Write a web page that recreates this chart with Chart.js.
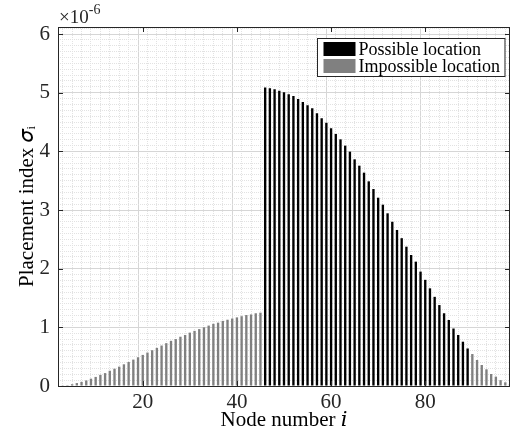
<!DOCTYPE html>
<html>
<head>
<meta charset="utf-8">
<script src="https://cdn.jsdelivr.net/npm/chart.js@4.4.0/dist/chart.umd.min.js"></script>
<style>
  html, body { margin: 0; padding: 0; background: #fff; }
  #wrap { width: 514px; height: 436px; position: relative; }
</style>
</head>
<body>
<div id="wrap"><canvas id="chart"></canvas></div>
<script>
// Индекс размещения по узлам, в единицах 1e-6
const impossibleNodes = [3, 4, 5, 6, 7, 8, 9, 10, 11, 12, 13, 14, 15, 16, 17, 18, 19, 20, 21, 22, 23, 24,
    25, 26, 27, 28, 29, 30, 31, 32, 33, 34, 35, 36, 37, 38, 39, 40, 41, 42, 43, 44, 45,
    90, 91, 92, 93, 94, 95, 96, 97, 98];
const impossibleValues = [0.005, 0.015, 0.03, 0.05, 0.07, 0.095, 0.125, 0.155, 0.19, 0.22, 0.26, 0.295,
    0.33, 0.37, 0.41, 0.45, 0.49, 0.53, 0.57, 0.61, 0.65, 0.69, 0.73, 0.77, 0.80, 0.84, 0.87, 0.91,
    0.94, 0.97, 1.00, 1.03, 1.06, 1.08, 1.11, 1.13, 1.15, 1.17, 1.19, 1.21, 1.22, 1.24, 1.25,
    0.545, 0.443, 0.358, 0.284, 0.205, 0.16, 0.10, 0.063, 0.034];
const possibleNodes = [46, 47, 48, 49, 50, 51, 52, 53, 54, 55, 56, 57, 58, 59, 60, 61, 62, 63, 64, 65, 66,
    67, 68, 69, 70, 71, 72, 73, 74, 75, 76, 77, 78, 79, 80, 81, 82, 83, 84, 85, 86, 87, 88, 89];
const possibleValues = [5.09, 5.075, 5.058, 5.035, 5.006, 4.972, 4.944, 4.893, 4.841, 4.784, 4.733, 4.648,
    4.563, 4.489, 4.392, 4.296, 4.205, 4.097, 3.995, 3.864, 3.756, 3.637, 3.489, 3.358, 3.21, 3.091,
    2.944, 2.80, 2.66, 2.52, 2.375, 2.233, 2.12, 1.95, 1.81, 1.665, 1.52, 1.38, 1.24, 1.125, 0.98,
    0.87, 0.755, 0.64];
const xTicks = [20, 40, 60, 80];
const yTicks = [0, 1, 2, 3, 4, 5, 6];
const xRange = [2, 98];
const yRange = [0, 6.12];

const FONT = '"Liberation Serif", "DejaVu Serif", serif';
const AXIS_COLOR = '#262626';

// основная сетка по меткам + мелкая сетка между ними
function withMinor(scale, major, from, to, step) {
    const ticks = [];
    const n = Math.round((to - from) / step);
    for (let k = 0; k <= n; k++) {
        const v = +(from + k * step).toFixed(6);
        ticks.push({ value: v, major: major.some(m => Math.abs(m - v) < 1e-6) });
    }
    scale.ticks = ticks;
}

const gridColor = ctx => (ctx.tick && ctx.tick.major) ? '#d6d6d6' : '#e2e2e2';
const gridDash = ctx => (ctx.tick && ctx.tick.major) ? [] : [1, 1];
const tickLabel = function (value, index, ticks) {
    return ticks[index].major ? String(value) : '';
};

// рамка осей, внутренние засечки, множитель и легенда
const axesBox = {
    id: 'axesBox',
    afterDraw(chart) {
        const { ctx, chartArea: a, scales } = chart;
        ctx.save();
        ctx.strokeStyle = AXIS_COLOR;
        ctx.lineWidth = 1;
        ctx.beginPath();
        xTicks.forEach(v => {
            const px = Math.round(scales.x.getPixelForValue(v)) + 0.5;
            ctx.moveTo(px, a.bottom); ctx.lineTo(px, a.bottom - 5);
            ctx.moveTo(px, a.top); ctx.lineTo(px, a.top + 5);
        });
        yTicks.forEach(v => {
            const py = Math.round(scales.y.getPixelForValue(v)) + 0.5;
            ctx.moveTo(a.left, py); ctx.lineTo(a.left + 5, py);
            ctx.moveTo(a.right, py); ctx.lineTo(a.right - 5, py);
        });
        ctx.stroke();
        ctx.strokeRect(Math.round(a.left) + 0.5, Math.round(a.top) + 0.5,
            Math.round(a.right - a.left) - 1, Math.round(a.bottom - a.top));

        // ×10^-6
        ctx.fillStyle = AXIS_COLOR;
        ctx.textBaseline = 'alphabetic';
        ctx.textAlign = 'left';
        ctx.font = '19px ' + FONT;
        const base = a.top - 4;
        ctx.fillText('×10', a.left + 1, base);
        const w = ctx.measureText('×10').width;
        ctx.font = '14px ' + FONT;
        ctx.fillText('-6', a.left + 1 + w, base - 9);

        // легенда
        const items = chart.data.datasets;
        ctx.font = '18px ' + FONT;
        const textW = Math.max(...items.map(d => ctx.measureText(d.label).width));
        const sw = 32, sh = 14, rowH = 17;
        const boxW = 6 + sw + 3 + textW + 5;
        const boxH = items.length * rowH + 4;
        const bx = Math.round(a.right - 6 - boxW) + 0.5;
        const by = Math.round(a.top + 11) + 0.5;
        ctx.fillStyle = '#fff';
        ctx.fillRect(bx, by, boxW, boxH);
        ctx.strokeStyle = AXIS_COLOR;
        ctx.strokeRect(bx, by, boxW, boxH);
        ctx.textBaseline = 'middle';
        items.forEach((d, i) => {
            const cy = by + 2 + rowH * i + rowH / 2;
            ctx.fillStyle = d.backgroundColor;
            ctx.fillRect(bx + 6, cy - sh / 2, sw, sh);
            ctx.fillStyle = '#000';
            ctx.fillText(d.label, bx + 6 + sw + 3, cy + 1);
        });
        ctx.restore();
    }
};

const ctx = document.getElementById('chart');
new Chart(ctx, {
    type: 'bar',
    data: {
        datasets: [{
            label: 'Possible location',
            data: possibleNodes.map((n, i) => ({ x: n, y: possibleValues[i] })),
            backgroundColor: '#000000'
        }, {
            label: 'Impossible location',
            data: impossibleNodes.map((n, i) => ({ x: n, y: impossibleValues[i] })),
            backgroundColor: '#808080'
        }]
    },
    options: {
        responsive: true,
        maintainAspectRatio: false,
        animation: false,
        datasets: {
            bar: { grouped: false, barPercentage: 0.5, categoryPercentage: 1, borderWidth: 0 }
        },
        layout: { padding: { top: 27, right: 2, left: 0, bottom: 0 } },
        plugins: {
            legend: { display: false },
            tooltip: { enabled: false }
        },
        scales: {
            x: {
                type: 'linear',
                min: xRange[0],
                max: xRange[1],
                offset: false,
                afterFit: s => { s.height = 50; },
                afterBuildTicks: s => withMinor(s, xTicks, xRange[0], xRange[1], 2),
                grid: { color: gridColor, drawTicks: false, lineWidth: 1 },
                border: { display: false, dash: gridDash },
                ticks: {
                    autoSkip: false, maxRotation: 0, padding: 4,
                    color: AXIS_COLOR, font: { family: FONT, size: 21 },
                    callback: tickLabel
                },
                title: {
                    display: true, text: 'Node number 𝑖', color: '#000',
                    font: { family: FONT, size: 21 }, padding: { top: 0, bottom: 3 }
                }
            },
            y: {
                min: yRange[0],
                max: yRange[1],
                afterFit: s => { s.width = 58; },
                afterBuildTicks: s => withMinor(s, yTicks, 0, 6.1, 0.1),
                grid: { color: gridColor, drawTicks: false, lineWidth: 1 },
                border: { display: false, dash: gridDash },
                ticks: {
                    autoSkip: false, padding: 8,
                    color: AXIS_COLOR, font: { family: FONT, size: 21 },
                    callback: tickLabel
                },
                title: {
                    display: true, text: 'Placement index 𝜎ᵢ', color: '#000',
                    font: { family: FONT, size: 21 }, padding: { top: 15, bottom: 0 }
                }
            }
        }
    },
    plugins: [axesBox]
});
</script>
</body>
</html>
